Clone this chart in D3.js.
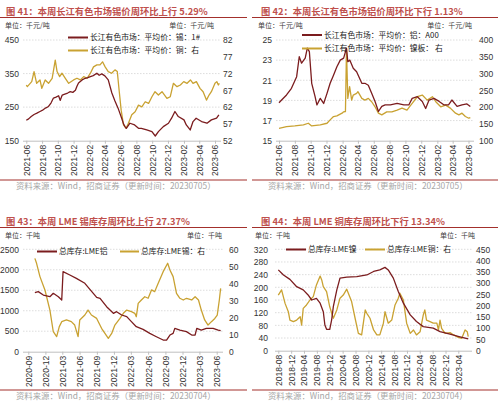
<!DOCTYPE html>
<html><head><meta charset="utf-8">
<script src="https://cdn.jsdelivr.net/npm/d3@7"></script>
<style>body{margin:0;background:#fff}svg{display:block}</style>
</head><body><svg id="c" width="500" height="402"></svg>
<script>
// ---------- DATA ----------
// Chart 41: tin (left) & copper (right), k CNY/t
const ticks41 = ["2021-06","2021-08","2021-10","2021-12","2022-02","2022-04","2022-06","2022-08","2022-10","2022-12","2023-02","2023-04","2023-06"];
const tinDates41 = ["2021-06-01","2021-06-10","2021-06-20","2021-07-01","2021-07-12","2021-07-24","2021-08-05","2021-08-16","2021-08-26","2021-09-05","2021-09-14","2021-09-24","2021-10-04","2021-10-10","2021-10-18","2021-10-28","2021-11-08","2021-11-18","2021-11-28","2021-12-08","2021-12-14","2021-12-20","2022-01-03","2022-01-15","2022-01-25","2022-02-04","2022-02-15","2022-03-01","2022-03-10","2022-03-20","2022-04-01","2022-04-14","2022-04-28","2022-05-10","2022-05-22","2022-06-05","2022-06-12","2022-06-18","2022-06-23","2022-07-07","2022-07-25","2022-08-09","2022-08-20","2022-09-10","2022-09-30","2022-10-13","2022-10-25","2022-11-13","2022-12-03","2022-12-15","2022-12-28","2023-01-10","2023-02-01","2023-02-10","2023-02-25","2023-03-08","2023-03-20","2023-04-10","2023-05-01","2023-05-18","2023-06-07","2023-06-16"];
const tinValues41 = [211,215,222,228,232,237,242,248,252,263,277,280,284,270,286,289,292,296,294,300,312,322,331,336,338,341,344,351,345,349,343,331,292,268,247,217,200,192,187,202,197,187,187,182,177,164,177,192,202,217,237,222,212,197,182,207,217,207,202,212,217,227];
const cuDates41 = ["2021-06-01","2021-06-05","2021-06-22","2021-07-01","2021-07-11","2021-07-24","2021-07-31","2021-08-13","2021-08-26","2021-09-09","2021-09-21","2021-09-28","2021-10-08","2021-10-17","2021-10-30","2021-11-12","2021-12-01","2021-12-14","2021-12-27","2022-01-09","2022-01-22","2022-02-04","2022-02-16","2022-03-01","2022-03-13","2022-03-23","2022-04-02","2022-04-14","2022-04-27","2022-05-10","2022-05-19","2022-05-26","2022-06-03","2022-06-12","2022-06-22","2022-07-01","2022-07-14","2022-07-27","2022-08-09","2022-08-22","2022-09-04","2022-09-17","2022-09-30","2022-10-12","2022-10-25","2022-11-08","2022-11-27","2022-12-10","2022-12-22","2023-01-05","2023-01-18","2023-01-31","2023-02-13","2023-02-26","2023-03-08","2023-03-21","2023-04-04","2023-04-16","2023-04-29","2023-05-09","2023-05-18","2023-06-01","2023-06-08","2023-06-14","2023-06-18"];
const cuValues41 = [68.6,68.1,69.6,72.6,69.1,70.1,67.6,70.1,69.1,70.6,76.0,72.6,71.1,72.1,70.6,69.1,70.1,70.6,70.1,71.1,70.6,72.1,74.0,74.6,74.6,75.5,74.0,72.6,72.1,73.1,72.6,67.1,61.1,56.7,55.7,57.2,59.7,60.6,62.6,62.1,63.6,63.1,65.1,66.6,65.6,66.6,64.6,65.1,69.1,68.1,68.6,69.6,69.1,70.1,69.1,69.6,67.6,66.6,64.1,65.6,66.6,69.1,69.6,68.6,69.1];

// Chart 42: aluminium (left) & nickel plate (right), k CNY/t
const ticks42 = ticks41;
const alDates42 = ["2021-06-01","2021-06-11","2021-06-30","2021-07-19","2021-08-08","2021-08-18","2021-08-27","2021-09-10","2021-09-18","2021-09-26","2021-10-05","2021-10-18","2021-10-25","2021-11-07","2021-11-20","2021-12-03","2021-12-15","2021-12-28","2022-01-10","2022-01-23","2022-02-05","2022-02-16","2022-02-21","2022-03-01","2022-03-14","2022-03-27","2022-04-16","2022-04-28","2022-05-11","2022-05-24","2022-06-06","2022-06-19","2022-07-02","2022-07-15","2022-08-04","2022-08-30","2022-09-25","2022-10-14","2022-10-27","2022-11-16","2022-12-05","2022-12-18","2022-12-31","2023-01-19","2023-02-08","2023-02-27","2023-03-16","2023-03-29","2023-04-18","2023-05-07","2023-05-26","2023-06-08"];
const alValues42 = [18.77,19.04,19.54,20.2,21.36,23.34,22.7,23.2,24.2,23.84,20.7,19.37,18.55,19.2,18.7,19.7,20.7,21.5,22.35,23.0,23.2,24.2,22.85,23.0,22.2,21.85,20.7,20.7,20.5,19.7,18.9,17.9,18.4,18.55,18.55,18.7,18.55,18.55,19.2,19.37,18.9,18.2,19.04,19.2,18.9,18.55,18.55,19.04,18.4,18.55,18.65,18.4];
const niDates42 = ["2021-06-01","2021-06-30","2021-08-01","2021-09-03","2021-09-22","2021-10-05","2021-11-07","2021-12-03","2021-12-15","2021-12-28","2022-01-10","2022-01-30","2022-02-05","2022-02-12","2022-02-16","2022-02-21","2022-02-28","2022-03-08","2022-03-14","2022-03-27","2022-04-01","2022-04-16","2022-04-28","2022-05-11","2022-05-24","2022-06-06","2022-06-19","2022-07-02","2022-07-21","2022-08-10","2022-08-30","2022-09-18","2022-10-07","2022-10-27","2022-11-16","2022-12-05","2022-12-24","2023-01-13","2023-01-26","2023-02-14","2023-03-05","2023-03-23","2023-04-12","2023-04-25","2023-05-07","2023-05-20","2023-06-02","2023-06-08"];
const niValues42 = [137,142,144,147,152,144,147,152,162,172,174,182,186,187,372,226,261,221,236,241,246,226,221,226,216,201,182,177,186,186,191,197,191,211,231,236,221,231,216,201,206,197,182,177,182,172,167,169];

// Chart 43: LME aluminium stock (left) & LME tin stock (right), kt
const ticks43 = ["2020-09","2020-12","2021-03","2021-06","2021-09","2021-12","2022-03","2022-06","2022-09","2022-12","2023-03","2023-06"];
const alDates43 = ["2020-10-06","2020-10-24","2020-11-20","2020-12-25","2021-01-12","2021-02-08","2021-02-26","2021-03-05","2021-04-10","2021-05-15","2021-06-29","2021-08-13","2021-08-31","2021-09-18","2021-10-23","2021-11-28","2021-12-15","2022-01-11","2022-02-07","2022-03-04","2022-03-30","2022-05-05","2022-06-10","2022-07-15","2022-08-20","2022-09-07","2022-09-25","2022-10-12","2022-10-21","2022-11-17","2022-12-22","2023-01-19","2023-02-06","2023-02-15","2023-03-11","2023-04-07","2023-05-13","2023-06-09","2023-06-22"];
const alValues43 = [1441,1466,1384,1343,1425,1343,1262,1954,1873,1791,1670,1425,1327,1303,1099,937,977,896,855,733,611,546,448,366,285,285,407,448,570,529,489,407,407,570,529,570,570,529,513];
const snDates43 = ["2020-10-06","2020-10-15","2020-11-02","2020-11-29","2020-12-25","2021-01-12","2021-01-30","2021-02-13","2021-02-26","2021-03-23","2021-04-18","2021-05-06","2021-05-24","2021-06-02","2021-06-29","2021-07-16","2021-08-03","2021-08-31","2021-09-26","2021-10-14","2021-11-01","2021-11-19","2021-12-06","2022-01-02","2022-01-20","2022-02-07","2022-03-04","2022-03-22","2022-03-30","2022-04-09","2022-04-26","2022-05-14","2022-06-01","2022-06-19","2022-07-06","2022-07-24","2022-08-20","2022-09-13","2022-09-25","2022-10-12","2022-10-30","2022-11-17","2022-12-05","2022-12-22","2023-01-19","2023-02-06","2023-02-24","2023-03-11","2023-03-29","2023-04-16","2023-05-04","2023-05-22","2023-06-04","2023-06-15","2023-06-22"];
const snValues43 = [54.7,51.8,44,36,24.4,11.7,8.8,14.7,17.6,18.6,17.6,15.6,8.8,18.6,21.5,24.4,21.5,19.5,13.7,10.7,7.8,10.7,15.6,19.5,22.5,24.4,23.5,22.5,20.5,28.3,30.3,32.2,31.3,36.2,35.2,40,46.9,51.8,47.9,44,34.2,31.3,30.3,31.3,30.3,32.2,30.3,24.4,18.6,15.6,17.6,19.5,21.5,30.3,37.1];

// Chart 44: LME nickel stock (left) & LME copper stock (right), kt
const ticks44 = ["2018-08","2018-12","2019-04","2019-08","2019-12","2020-04","2020-08","2020-12","2021-04","2021-08","2021-12","2022-04","2022-08","2022-12","2023-04"];
const niDates44 = ["2018-08-01","2018-09-19","2018-11-19","2019-01-22","2019-03-25","2019-05-10","2019-06-13","2019-07-28","2019-09-01","2019-10-01","2019-10-16","2019-11-01","2019-12-01","2019-12-19","2020-01-04","2020-02-06","2020-03-07","2020-05-10","2020-08-13","2020-11-16","2021-01-19","2021-03-19","2021-05-07","2021-06-07","2021-07-25","2021-09-10","2021-10-28","2022-01-01","2022-03-01","2022-05-04","2022-08-07","2022-10-10","2023-01-13","2023-04-16","2023-07-04"];
const niValues44 = [255,239,225,202,192,176,160,165,150,123,81,67.6,67.6,97,139,192,229,232,234,239,250,255,263,255,229,187,150,113,92,76,71,60,52,44,37];
const cuDates44 = ["2018-08-01","2018-09-01","2018-10-04","2018-11-04","2018-11-19","2018-12-22","2019-01-22","2019-02-24","2019-03-10","2019-03-25","2019-04-25","2019-05-28","2019-06-28","2019-07-28","2019-09-01","2019-09-16","2019-10-01","2019-11-01","2019-12-01","2020-01-04","2020-02-06","2020-03-07","2020-04-07","2020-05-10","2020-05-25","2020-06-25","2020-07-28","2020-08-28","2020-09-28","2020-11-01","2020-11-16","2020-12-16","2021-01-19","2021-02-19","2021-03-19","2021-04-22","2021-05-07","2021-06-07","2021-07-10","2021-08-10","2021-09-10","2021-09-25","2021-10-28","2021-11-28","2022-01-01","2022-02-01","2022-03-01","2022-04-04","2022-05-04","2022-05-19","2022-06-04","2022-07-07","2022-08-07","2022-09-10","2022-09-25","2022-10-10","2022-10-25","2022-11-28","2023-01-13","2023-02-16","2023-04-01","2023-05-04","2023-06-04","2023-06-25","2023-07-04"];
const cuValues44 = [247,270,210,173,136,129,136,151,114,188,203,225,240,292,331,314,284,262,195,144,181,233,247,273,255,218,144,77,70,181,166,144,92,70,70,122,173,122,136,203,233,255,225,122,77,92,70,84,158,181,136,129,122,122,92,136,99,77,80,70,59,55,92,84,62];

// ---------- DRAW ----------
const svg = d3.select("#c");
svg.append("rect").attr("width",500).attr("height",402).attr("fill","#fff");
const CJK = "'Noto Sans CJK SC', 'Liberation Sans', sans-serif";
const NUM = "'Liberation Sans', Arial, sans-serif";
const MAROON = "#7B1C1E", GOLD = "#C9A232", TITLE = "#C0504D", RULE = "#A3302C";
const pd = d3.timeParse("%Y-%m-%d"), pm = d3.timeParse("%Y-%m");

function panel(p) {
  const g = svg.append("g");
  g.append("text").attr("x", p.tx).attr("y", p.ty).attr("font-family", CJK).attr("font-weight", "bold")
    .attr("font-size", 9.3).attr("fill", TITLE).text(p.title);
  g.append("line").attr("x1", p.rx0).attr("x2", p.rx1).attr("y1", p.uy).attr("y2", p.uy).attr("stroke", RULE).attr("stroke-width", 1.2);
  g.append("line").attr("x1", p.rx0).attr("x2", p.rx1).attr("y1", p.by).attr("y2", p.by).attr("stroke", RULE).attr("stroke-width", 1.2);
  g.append("text").attr("x", p.sx).attr("y", p.by + 8.5).attr("font-family", CJK).attr("font-size", 8.4)
    .attr("fill", "#a6a6a6").text(p.source);
  g.append("text").attr("x", p.ulx).attr("y", p.unitY).attr("font-family", CJK).attr("font-size", 7).attr("fill", "#404040").text(p.unitL);
  g.append("text").attr("x", p.urx).attr("y", p.unitY).attr("font-family", CJK).attr("font-size", 7).attr("fill", "#404040").attr("text-anchor","end").text(p.unitR);

  const x = d3.scaleTime().domain([pm(p.ticks[0]), pm(p.ticks[p.ticks.length - 1])]).range(p.xr);
  const yl = d3.scaleLinear().domain(p.ld).range([p.yb, p.yt]);
  const yr = d3.scaleLinear().domain(p.rd).range([p.yb, p.yt]);

  g.append("g").selectAll("line").data(p.lt.slice(1)).join("line")
    .attr("x1", p.ax0).attr("x2", p.ax1).attr("y1", d => yl(d)).attr("y2", d => yl(d))
    .attr("stroke", "#d4d4d4").attr("stroke-width", 0.8).attr("stroke-dasharray", "1.5,1.5");

  const la = g.append("g").attr("transform", `translate(${p.llx},0)`)
    .call(d3.axisLeft(yl).tickValues(p.lt).tickSize(0).tickPadding(0).tickFormat(d3.format("d")));
  la.select(".domain").remove();
  la.selectAll("text").attr("font-family", NUM).attr("font-size", 8.5).attr("fill", "#333");

  const ra = g.append("g").attr("transform", `translate(${p.rlx},0)`)
    .call(d3.axisRight(yr).tickValues(p.rt).tickSize(0).tickPadding(0).tickFormat(d3.format("d")));
  ra.select(".domain").remove();
  ra.selectAll("text").attr("font-family", NUM).attr("font-size", 8.5).attr("fill", "#333");

  const xa = g.append("g").attr("transform", `translate(0,${p.yb})`)
    .call(d3.axisBottom(x).tickValues(p.ticks.map(pm)).tickFormat(d3.timeFormat("%Y-%m")).tickSize(3));
  xa.select(".domain").attr("d", `M${p.ax0},0.5H${p.ax1}`).attr("stroke", "#bfbfbf");
  xa.selectAll(".tick line").attr("stroke", "#bfbfbf");
  xa.selectAll("text").attr("font-family", NUM).attr("font-size", 8.5).attr("fill", "#333")
    .attr("transform", "rotate(-90)").attr("text-anchor", "end").attr("x", -4).attr("y", 0).attr("dy", "0.35em");

  p.series.forEach(s => {
    const sc = s.axis === "r" ? yr : yl;
    const pts = s.dates.map((d, i) => [pd(d), s.values[i]]);
    g.append("path").datum(pts).attr("fill", "none").attr("stroke", s.color).attr("stroke-width", 1.3)
      .attr("stroke-linejoin", "round")
      .attr("d", d3.line().x(d => x(d[0])).y(d => sc(d[1])));
  });

  p.legend.forEach(l => {
    g.append("line").attr("x1", l.x).attr("x2", l.x + l.w).attr("y1", l.y).attr("y2", l.y)
      .attr("stroke", l.color).attr("stroke-width", 2);
    g.append("text").attr("x", l.x + l.w + 2).attr("y", l.y).attr("dy", "0.35em").attr("font-family", CJK)
      .attr("font-size", 7.8).attr("fill", "#222").text(l.text);
  });
}

panel({
  title: "图 41：本周长江有色市场锡价周环比上行 5.29%", tx: 6, ty: 15, rx0: 0, rx1: 247, uy: 17.5, by: 180,
  source: "资料来源：Wind，招商证券（更新时间：20230705）", sx: 16,
  unitL: "单位：千元/吨", unitR: "单位：千元/吨", ulx: 5, urx: 214, unitY: 28,
  ticks: ticks41, xr: [26.3, 215], ax0: 23, ax1: 221, yb: 140.7, yt: 40,
  ld: [150, 450], lt: [150, 250, 350, 450], rd: [52, 82], rt: [52, 57, 62, 67, 72, 77, 82], llx: 19, rlx: 223,
  series: [
    { dates: cuDates41, values: cuValues41, axis: "r", color: GOLD },
    { dates: tinDates41, values: tinValues41, axis: "l", color: MAROON }
  ],
  legend: [
    { x: 68, w: 20, y: 37.5, color: MAROON, text: "长江有色市场：平均价：锡：1#" },
    { x: 68, w: 20, y: 50.5, color: GOLD, text: "长江有色市场：平均价：铜：右" }
  ]
});

panel({
  title: "图 42：本周长江有色市场铝价周环比下行 1.13%", tx: 261, ty: 15, rx0: 252, rx1: 498, uy: 17.5, by: 180,
  source: "资料来源：Wind，招商证券（更新时间：20230705）", sx: 268,
  unitL: "单位：千元/吨", unitR: "单位：千元/吨", ulx: 258, urx: 472, unitY: 28,
  ticks: ticks42, xr: [279, 468.5], ax0: 276, ax1: 474, yb: 140.7, yt: 40,
  ld: [15, 25], lt: [15, 17, 19, 21, 23, 25], rd: [100, 400], rt: [100, 150, 200, 250, 300, 350, 400], llx: 272, rlx: 479,
  series: [
    { dates: niDates42, values: niValues42, axis: "r", color: GOLD },
    { dates: alDates42, values: alValues42, axis: "l", color: MAROON }
  ],
  legend: [
    { x: 302, w: 20, y: 35, color: MAROON, text: "长江有色市场：平均价：铝：A00" },
    { x: 302, w: 20, y: 48.5, color: GOLD, text: "长江有色市场：平均价：镍板：  右" }
  ]
});

panel({
  title: "图 43：本周 LME 锡库存周环比上行 27.37%", tx: 6, ty: 225, rx0: 0, rx1: 247, uy: 227.5, by: 390,
  source: "资料来源：Wind，招商证券（更新时间：20230704）", sx: 16,
  unitL: "单位：千吨", unitR: "单位：千吨", ulx: 5, urx: 222, unitY: 238,
  ticks: ticks43, xr: [28.3, 216.7], ax0: 23, ax1: 223, yb: 351.7, yt: 249.3,
  ld: [0, 2500], lt: [0, 500, 1000, 1500, 2000, 2500], rd: [0, 60], rt: [0, 10, 20, 30, 40, 50, 60], llx: 19, rlx: 229,
  series: [
    { dates: snDates43, values: snValues43, axis: "r", color: GOLD },
    { dates: alDates43, values: alValues43, axis: "l", color: MAROON }
  ],
  legend: [
    { x: 37, w: 20, y: 251.5, color: MAROON, text: "总库存:LME铝" },
    { x: 120, w: 19, y: 251.5, color: GOLD, text: "总库存:LME锡：右" }
  ]
});

panel({
  title: "图 44：本周 LME 铜库存周环比下行 13.34%", tx: 261, ty: 225, rx0: 252, rx1: 498, uy: 227.5, by: 390,
  source: "资料来源：Wind，招商证券（更新时间：20230704）", sx: 268,
  unitL: "单位：千吨", unitR: "单位：千吨", ulx: 255, urx: 475, unitY: 238,
  ticks: ticks44, xr: [278.3, 458.3], ax0: 275, ax1: 472, yb: 350.7, yt: 249.3,
  ld: [0, 320], lt: [0, 40, 80, 120, 160, 200, 240, 280, 320], rd: [0, 450], rt: [0, 50, 100, 150, 200, 250, 300, 350, 400, 450], llx: 268, rlx: 476,
  series: [
    { dates: cuDates44, values: cuValues44, axis: "r", color: GOLD },
    { dates: niDates44, values: niValues44, axis: "l", color: MAROON }
  ],
  legend: [
    { x: 286, w: 20, y: 249.5, color: MAROON, text: "总库存:LME镍" },
    { x: 365, w: 20, y: 249.5, color: GOLD, text: "总库存:LME铜：右" }
  ]
});
</script></body></html>
